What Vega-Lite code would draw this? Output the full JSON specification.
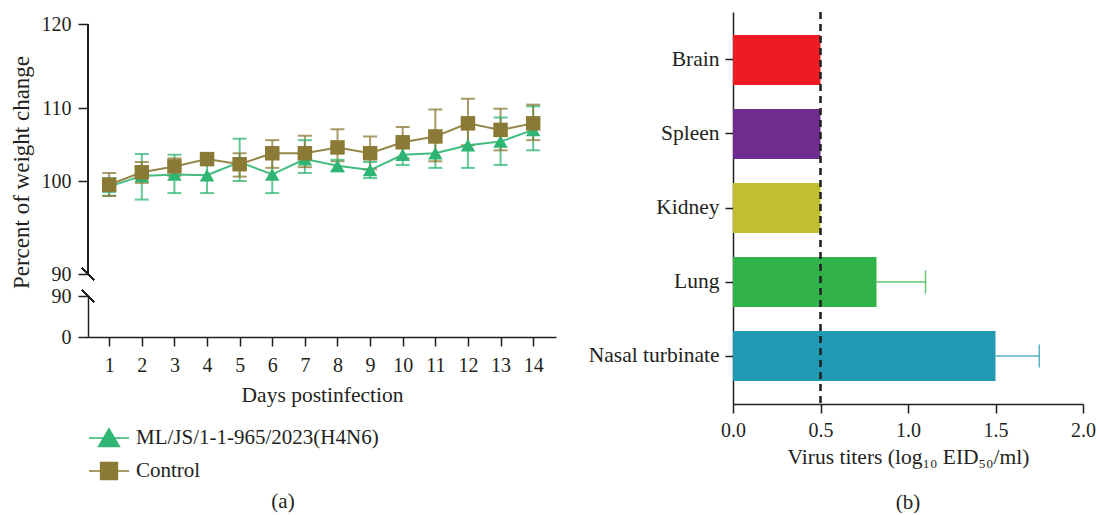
{
  "$schema": "https://vega.github.io/schema/vega-lite/v6.json",
  "background": "white",
  "padding": {"left": 10, "top": 11, "right": 0, "bottom": 0},
  "datasets": {
    "weight": [
      {"day": 1, "group": "ML/JS/1-1-965/2023(H4N6)", "mean": 99.4, "lo": 98.4, "hi": 100.4},
      {"day": 2, "group": "ML/JS/1-1-965/2023(H4N6)", "mean": 100.7, "lo": 98.0, "hi": 103.7},
      {"day": 3, "group": "ML/JS/1-1-965/2023(H4N6)", "mean": 100.9, "lo": 98.7, "hi": 103.6},
      {"day": 4, "group": "ML/JS/1-1-965/2023(H4N6)", "mean": 100.8, "lo": 98.7, "hi": 103.2},
      {"day": 5, "group": "ML/JS/1-1-965/2023(H4N6)", "mean": 102.6, "lo": 100.0, "hi": 105.8},
      {"day": 6, "group": "ML/JS/1-1-965/2023(H4N6)", "mean": 100.9, "lo": 98.7, "hi": 103.3},
      {"day": 7, "group": "ML/JS/1-1-965/2023(H4N6)", "mean": 103.0, "lo": 101.1, "hi": 105.6},
      {"day": 8, "group": "ML/JS/1-1-965/2023(H4N6)", "mean": 102.1, "lo": 101.3, "hi": 102.9},
      {"day": 9, "group": "ML/JS/1-1-965/2023(H4N6)", "mean": 101.5, "lo": 100.4, "hi": 102.6},
      {"day": 10, "group": "ML/JS/1-1-965/2023(H4N6)", "mean": 103.6, "lo": 102.2, "hi": 105.2},
      {"day": 11, "group": "ML/JS/1-1-965/2023(H4N6)", "mean": 103.8, "lo": 101.8, "hi": 105.9},
      {"day": 12, "group": "ML/JS/1-1-965/2023(H4N6)", "mean": 104.9, "lo": 101.8, "hi": 108.1},
      {"day": 13, "group": "ML/JS/1-1-965/2023(H4N6)", "mean": 105.4, "lo": 102.2, "hi": 108.7},
      {"day": 14, "group": "ML/JS/1-1-965/2023(H4N6)", "mean": 107.0, "lo": 104.2, "hi": 110.2},
      {"day": 1, "group": "Control", "mean": 99.6, "lo": 98.4, "hi": 101.1},
      {"day": 2, "group": "Control", "mean": 101.2, "lo": 99.8, "hi": 102.6},
      {"day": 3, "group": "Control", "mean": 102.0, "lo": 100.7, "hi": 103.1},
      {"day": 4, "group": "Control", "mean": 103.0, "lo": 102.6, "hi": 103.4},
      {"day": 5, "group": "Control", "mean": 102.3, "lo": 100.6, "hi": 103.8},
      {"day": 6, "group": "Control", "mean": 103.8, "lo": 101.8, "hi": 105.6},
      {"day": 7, "group": "Control", "mean": 103.8, "lo": 101.9, "hi": 106.2},
      {"day": 8, "group": "Control", "mean": 104.6, "lo": 102.7, "hi": 107.1},
      {"day": 9, "group": "Control", "mean": 103.8, "lo": 101.6, "hi": 106.1},
      {"day": 10, "group": "Control", "mean": 105.3, "lo": 103.1, "hi": 107.4},
      {"day": 11, "group": "Control", "mean": 106.1, "lo": 102.7, "hi": 109.8},
      {"day": 12, "group": "Control", "mean": 107.9, "lo": 104.9, "hi": 111.1},
      {"day": 13, "group": "Control", "mean": 107.0, "lo": 104.2, "hi": 109.9},
      {"day": 14, "group": "Control", "mean": 107.9, "lo": 105.6, "hi": 110.4}
    ],
    "titer": [
      {"organ": "Brain", "titer": 0.5, "hi": null},
      {"organ": "Spleen", "titer": 0.5, "hi": null},
      {"organ": "Kidney", "titer": 0.5, "hi": null},
      {"organ": "Lung", "titer": 0.82, "hi": 1.1},
      {"organ": "Nasal turbinate", "titer": 1.5, "hi": 1.75}
    ]
  },
  "config": {
    "font": "Liberation Serif",
    "view": {"stroke": null},
    "axis": {
      "grid": false,
      "labelFont": "Liberation Serif",
      "titleFont": "Liberation Serif",
      "labelFontSize": 20,
      "titleFontSize": 21.5,
      "titleFontWeight": "normal",
      "labelColor": "#231f20",
      "titleColor": "#231f20",
      "domainColor": "#231f20",
      "tickColor": "#231f20",
      "domainWidth": 1.5,
      "tickWidth": 1.5,
      "tickSize": 10
    },
    "legend": {"labelFont": "Liberation Serif", "labelFontSize": 21, "labelColor": "#231f20"},
    "title": {"font": "Liberation Serif", "fontSize": 21, "fontWeight": "normal", "color": "#231f20"}
  },
  "hconcat": [
    {
      "title": {"text": "(a)", "orient": "bottom", "anchor": "middle", "offset": 8},
      "spacing": 22,
      "bounds": "flush",
      "resolve": {"scale": {"color": "independent", "shape": "independent", "stroke": "independent"}, "legend": {"color": "independent", "shape": "independent", "stroke": "independent"}},
      "vconcat": [
        {
          "width": 468,
          "height": 262,
          "data": {"name": "weight"},
          "layer": [
            {
              "mark": {"type": "rule", "strokeWidth": 2, "opacity": 0.75},
              "encoding": {
                "x": {"field": "day", "type": "quantitative", "scale": {"domain": [0.35, 14.7], "nice": false, "zero": false}, "axis": null},
                "y": {"field": "lo", "type": "quantitative", "scale": {"domain": [90, 100, 110, 120], "range": [262, 169, 96, 12], "nice": false, "zero": false}, "axis": {"values": [90, 100, 110, 120], "domain": false, "title": "Percent of weight change", "titleFontSize": 23, "titlePadding": 8, "titleY": 160, "labelPadding": 7}},
                "y2": {"field": "hi"},
                "color": {"field": "group", "type": "nominal", "scale": {"domain": ["ML/JS/1-1-965/2023(H4N6)", "Control"], "range": ["#2fb573", "#8b7a35"]}, "legend": null}
              }
            },
            {
              "mark": {"type": "tick", "orient": "horizontal", "size": 14, "thickness": 2, "opacity": 0.75},
              "encoding": {
                "x": {"field": "day", "type": "quantitative"},
                "y": {"field": "lo", "type": "quantitative"},
                "color": {"field": "group", "type": "nominal", "legend": null}
              }
            },
            {
              "mark": {"type": "tick", "orient": "horizontal", "size": 14, "thickness": 2, "opacity": 0.75},
              "encoding": {
                "x": {"field": "day", "type": "quantitative"},
                "y": {"field": "hi", "type": "quantitative"},
                "color": {"field": "group", "type": "nominal", "legend": null}
              }
            },
            {
              "mark": {"type": "line", "strokeWidth": 2, "opacity": 0.9},
              "encoding": {
                "x": {"field": "day", "type": "quantitative"},
                "y": {"field": "mean", "type": "quantitative"},
                "color": {"field": "group", "type": "nominal", "legend": null}
              }
            },
            {
              "mark": {"type": "point", "filled": true, "opacity": 1, "size": 210},
              "encoding": {
                "x": {"field": "day", "type": "quantitative"},
                "y": {"field": "mean", "type": "quantitative"},
                "color": {"field": "group", "type": "nominal", "legend": null},
                "shape": {"field": "group", "type": "nominal", "scale": {"domain": ["ML/JS/1-1-965/2023(H4N6)", "Control"], "range": ["triangle-up", "square"]}, "legend": null}
              }
            },
            {
              "mark": {"type": "rule", "stroke": "#231f20", "strokeWidth": 1.5},
              "encoding": {
                "x": {"datum": 0.35, "type": "quantitative"},
                "y": {"datum": 90, "type": "quantitative"},
                "y2": {"datum": 120}
              }
            },
            {
              "mark": {"type": "point", "shape": "M-1,-1L1,1", "size": 144, "stroke": "#231f20", "strokeWidth": 1.5, "filled": false, "opacity": 1},
              "encoding": {
                "x": {"datum": 0.35, "type": "quantitative"},
                "y": {"datum": 90, "type": "quantitative"}
              }
            }
          ]
        },
        {
          "width": 468,
          "height": 41,
          "data": {"name": "weight"},
          "layer": [
            {
              "mark": {"type": "point", "filled": true, "clip": true, "opacity": 1, "size": 1600, "strokeWidth": 1.5},
              "encoding": {
                "x": {"field": "day", "type": "quantitative", "scale": {"domain": [0.35, 14.7], "nice": false, "zero": false}, "axis": {"values": [1, 2, 3, 4, 5, 6, 7, 8, 9, 10, 11, 12, 13, 14], "labelOverlap": false, "labelFlush": false, "title": "Days postinfection", "tickSize": 9, "labelPadding": 9, "titlePadding": 9}},
                "y": {"datum": 1000, "type": "quantitative", "scale": {"domain": [0, 90], "nice": false, "zero": false}, "axis": {"values": [0, 90], "title": null, "labelPadding": 7}},
                "color": {
                  "field": "group", "type": "nominal",
                  "scale": {"domain": ["ML/JS/1-1-965/2023(H4N6)", "Control"], "range": ["#2fb573", "#8b7a35"]},
                  "legend": {"title": null, "orient": "bottom", "direction": "vertical", "offset": 11, "symbolSize": 1600, "rowPadding": -14, "labelOffset": 6, "labelLimit": 500, "symbolOpacity": 1, "symbolStrokeWidth": 1.5}
                },
                "stroke": {
                  "field": "group", "type": "nominal",
                  "scale": {"domain": ["ML/JS/1-1-965/2023(H4N6)", "Control"], "range": ["#2fb573", "#8b7a35"]},
                  "legend": {"title": null, "orient": "bottom", "direction": "vertical", "offset": 11, "symbolSize": 1600, "rowPadding": -14, "labelOffset": 6, "labelLimit": 500, "symbolOpacity": 1, "symbolStrokeWidth": 1.5}
                },
                "shape": {
                  "field": "group", "type": "nominal",
                  "scale": {"domain": ["ML/JS/1-1-965/2023(H4N6)", "Control"], "range": ["M-1,0H1M0,-0.46L0.52,0.42L-0.52,0.42Z", "M-1,0H1M-0.42,-0.42H0.42V0.42H-0.42Z"]},
                  "legend": {"title": null, "orient": "bottom", "direction": "vertical", "offset": 11, "symbolSize": 1600, "rowPadding": -14, "labelOffset": 6, "labelLimit": 500, "symbolOpacity": 1, "symbolStrokeWidth": 1.5}
                }
              }
            },
            {
              "mark": {"type": "point", "shape": "M-1,-1L1,1", "size": 144, "stroke": "#231f20", "strokeWidth": 1.5, "filled": false, "opacity": 1},
              "encoding": {
                "x": {"datum": 0.35, "type": "quantitative", "axis": {"values": [1, 2, 3, 4, 5, 6, 7, 8, 9, 10, 11, 12, 13, 14], "labelOverlap": false, "labelFlush": false, "title": "Days postinfection", "tickSize": 9, "labelPadding": 9, "titlePadding": 9}},
                "y": {"datum": 90, "type": "quantitative", "axis": {"values": [0, 90], "title": null, "labelPadding": 7}}
              }
            }
          ]
        }
      ]
    },
    {
      "title": {"text": "(b)", "orient": "bottom", "anchor": "middle", "offset": 24},
      "width": 350,
      "height": 392,
      "data": {"name": "titer"},
      "layer": [
        {
          "mark": {"type": "bar"},
          "encoding": {
            "y": {"field": "organ", "type": "nominal", "sort": ["Brain", "Spleen", "Kidney", "Lung", "Nasal turbinate"], "scale": {"paddingInner": 0.324, "paddingOuter": 0.31}, "axis": {"title": null, "labelFontSize": 21.5, "labelPadding": 6, "tickSize": 8}},
            "x": {"field": "titer", "type": "quantitative", "scale": {"domain": [0, 2], "nice": false}, "axis": {"values": [0, 0.5, 1, 1.5, 2], "format": ".1f", "title": "Virus titers (log₁₀ EID₅₀/ml)", "tickSize": 9, "labelPadding": 7, "titlePadding": 6, "labelFlush": false}},
            "color": {"field": "organ", "type": "nominal", "scale": {"domain": ["Brain", "Spleen", "Kidney", "Lung", "Nasal turbinate"], "range": ["#ed1c24", "#6f2c8f", "#bfbf30", "#32b34a", "#2199b3"]}, "legend": null}
          }
        },
        {
          "transform": [{"filter": "datum.hi != null"}],
          "mark": {"type": "rule", "strokeWidth": 1.5, "opacity": 0.75},
          "encoding": {
            "y": {"field": "organ", "type": "nominal", "sort": ["Brain", "Spleen", "Kidney", "Lung", "Nasal turbinate"]},
            "x": {"field": "titer", "type": "quantitative"},
            "x2": {"field": "hi"},
            "color": {"field": "organ", "type": "nominal"}
          }
        },
        {
          "transform": [{"filter": "datum.hi != null"}],
          "mark": {"type": "tick", "orient": "vertical", "size": 23, "thickness": 1.5, "opacity": 0.75},
          "encoding": {
            "y": {"field": "organ", "type": "nominal", "sort": ["Brain", "Spleen", "Kidney", "Lung", "Nasal turbinate"]},
            "x": {"field": "hi", "type": "quantitative"},
            "color": {"field": "organ", "type": "nominal"}
          }
        },
        {
          "mark": {"type": "rule", "strokeDash": [7, 5], "strokeWidth": 1.5, "color": "#231f20"},
          "encoding": {
            "x": {"datum": 0.5, "type": "quantitative"}
          }
        }
      ]
    }
  ],
  "spacing": 32,
  "resolve": {"scale": {"color": "independent", "shape": "independent", "stroke": "independent", "x": "independent", "y": "independent"}, "legend": {"color": "independent", "shape": "independent", "stroke": "independent"}}
}
